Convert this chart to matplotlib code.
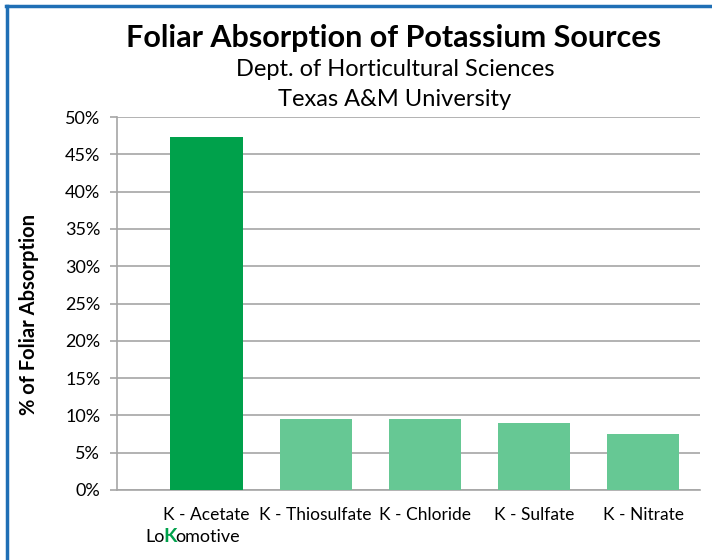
import matplotlib.pyplot as plt
from matplotlib.lines import Line2D
from matplotlib.ticker import PercentFormatter

# data
sources = ['K - Acetate', 'K - Thiosulfate', 'K - Chloride', 'K - Sulfate', 'K - Nitrate']
absorption = [47.3, 9.5, 9.5, 9.0, 7.5]
bar_colors = ['#00A14B', '#66C894', '#66C894', '#66C894', '#66C894']
y_ticks = [0, 5, 10, 15, 20, 25, 30, 35, 40, 45, 50]

plt.rcParams['font.family'] = ['Lato', 'DejaVu Sans']

W, H = 712, 560
fig = plt.figure(figsize=(W / 100, H / 100), dpi=100)
ax = fig.add_axes([117 / W, 1 - 490 / H, (700 - 117) / W, (490 - 117) / H])

x = range(len(sources))
ax.bar(x, absorption, width=0.66, color=bar_colors, zorder=3)

ax.set_ylim(0, 50)
ax.set_xlim(-0.82, 4.52)
ax.set_yticks(y_ticks)
ax.yaxis.set_major_formatter(PercentFormatter(decimals=0))
ax.grid(axis='y', color='#a6a6a6', lw=1.2, zorder=0)
ax.set_xticks(list(x))
ax.set_xticklabels(sources, fontsize=12.5)
ax.tick_params(axis='x', length=0, pad=12)
ax.tick_params(axis='y', length=5, width=1.2, color='#a6a6a6', labelsize=13, pad=7)

for side in ['top', 'right']:
    ax.spines[side].set_visible(False)
for side in ['left', 'bottom']:
    ax.spines[side].set_color('#a6a6a6')
    ax.spines[side].set_linewidth(1.2)

ax.set_ylabel('% of Foliar Absorption', fontsize=14.5, fontweight='bold')
ax.yaxis.set_label_coords(-0.134, 0.47)

# titles
fig.text(394 / W, 1 - 38 / H, 'Foliar Absorption of Potassium Sources',
         ha='center', va='center', fontsize=22, fontweight='bold')
fig.text(395 / W, 1 - 70 / H, 'Dept. of Horticultural Sciences',
         ha='center', va='center', fontsize=17)
fig.text(395 / W, 1 - 99 / H, 'Texas A&M University',
         ha='center', va='center', fontsize=17)

# logo text
fig.text(145 / W, 1 - 537 / H, 'Lo', ha='left', va='center', fontsize=13)
fig.text(163 / W, 1 - 537 / H, 'K', ha='left', va='center', fontsize=14,
         fontweight='bold', color='#00A14B')
fig.text(175 / W, 1 - 537 / H, 'omotive', ha='left', va='center', fontsize=13)

# blue frame (top and left edge)
fig.add_artist(Line2D([6 / W, 1], [1 - 6 / H, 1 - 6 / H], color='#1F6FB5', lw=2.5))
fig.add_artist(Line2D([7 / W, 7 / W], [0, 1 - 6 / H], color='#1F6FB5', lw=2.5))

fig.savefig('out.png', dpi=100)
